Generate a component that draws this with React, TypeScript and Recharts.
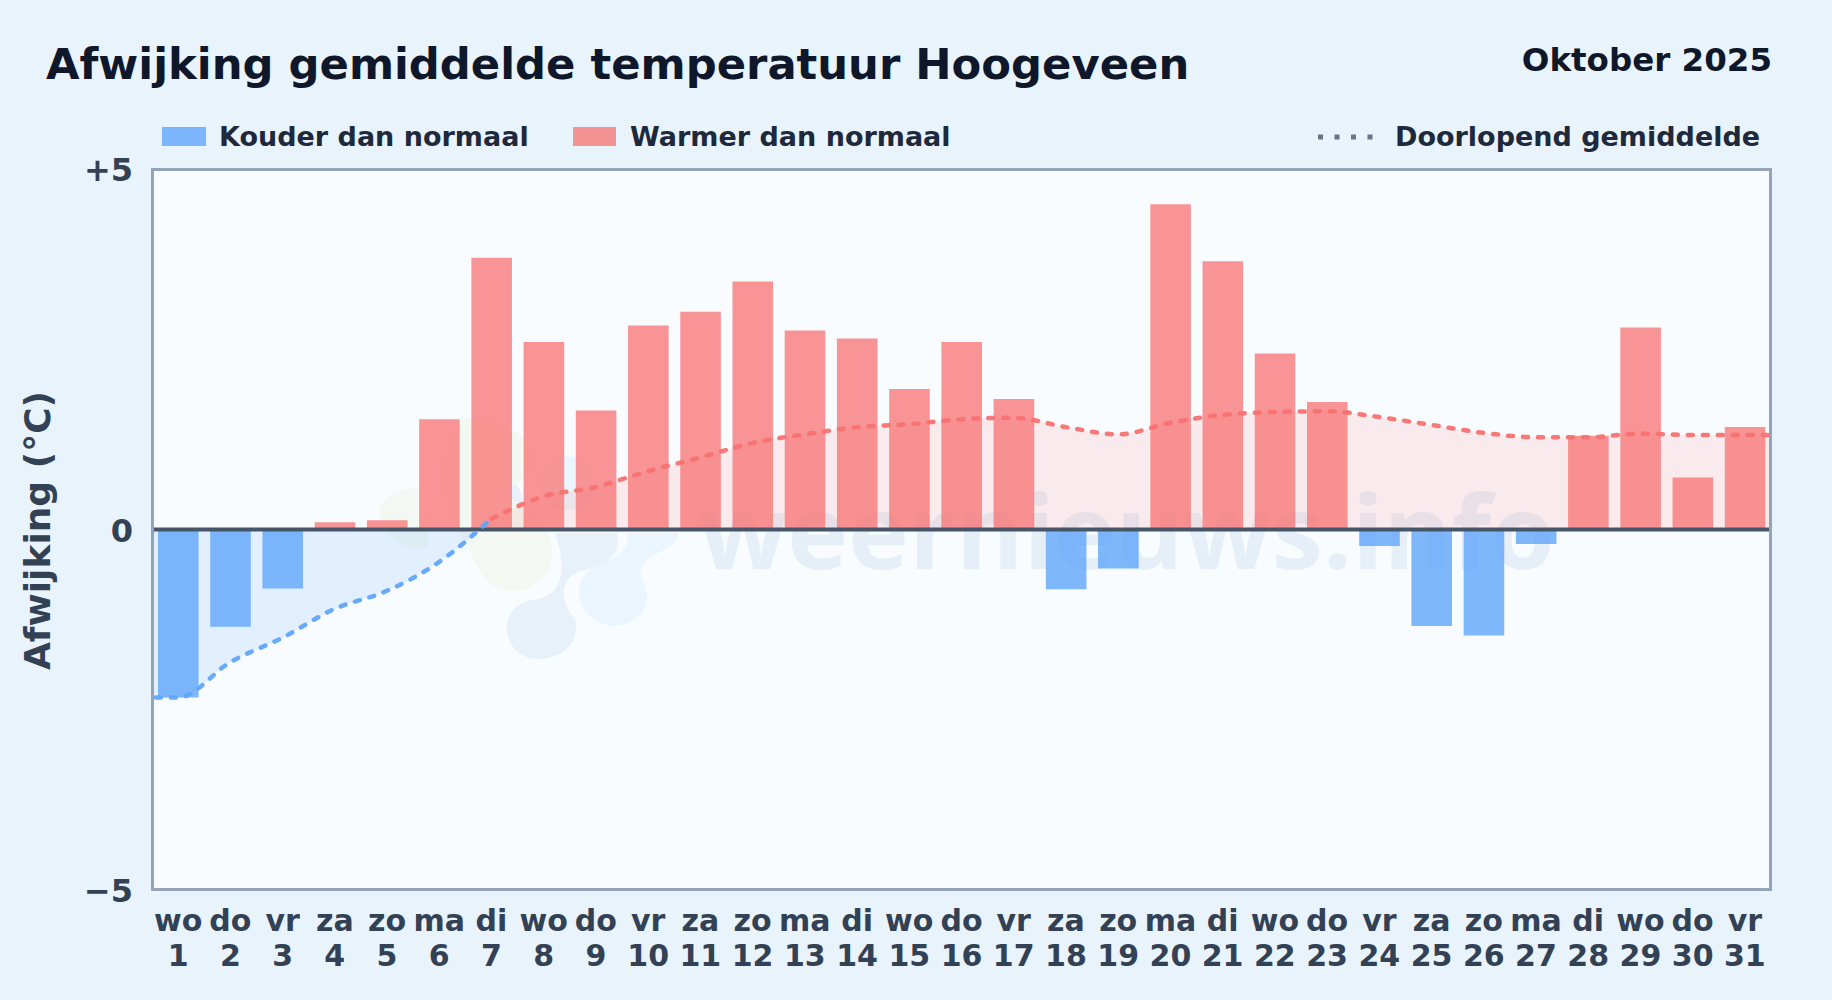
import { Area, Bar, Cell, ComposedChart, Line, ReferenceLine, XAxis, YAxis } from "recharts";

const dagen = [1, 2, 3, 4, 5, 6, 7, 8, 9, 10, 11, 12, 13, 14, 15, 16, 17, 18, 19, 20, 21, 22, 23, 24, 25, 26, 27, 28, 29, 30, 31];
const weekdagen = ["wo", "do", "vr", "za", "zo", "ma", "di", "wo", "do", "vr", "za", "zo", "ma", "di", "wo", "do", "vr", "za", "zo", "ma", "di", "wo", "do", "vr", "za", "zo", "ma", "di", "wo", "do", "vr"];
const afwijking = [-2.33, -1.35, -0.82, 0.1, 0.13, 1.53, 3.77, 2.6, 1.65, 2.83, 3.02, 3.44, 2.76, 2.65, 1.95, 2.6, 1.81, -0.83, -0.54, 4.51, 3.72, 2.44, 1.77, -0.23, -1.34, -1.47, -0.2, 1.3, 2.8, 0.72, 1.42];
const gemiddelde = [-2.33, -1.84, -1.5, -1.1, -0.85, -0.45, 0.15, 0.46, 0.59, 0.81, 1.0, 1.2, 1.32, 1.42, 1.46, 1.53, 1.55, 1.42, 1.32, 1.48, 1.59, 1.63, 1.64, 1.56, 1.45, 1.34, 1.28, 1.28, 1.33, 1.31, 1.31];
const yTicks = [-5, 0, 5];

const BLAUW = "#60a5fa";
const ROOD = "#f87171";
const LAATSTE_KOUDE_DAG = 7;
const FONT = "'DejaVu Sans', sans-serif";

type Rij = { dag: number; waarde: number | null; koud: number | null; warm: number | null };

function maakRij(dag: number, waarde: number | null, gem: number): Rij {
  return {
    dag,
    waarde,
    koud: dag <= LAATSTE_KOUDE_DAG ? gem : null,
    warm: dag >= LAATSTE_KOUDE_DAG ? gem : null,
  };
}

// de lijn loopt door tot voorbij de randen, het domein knipt hem af op het plotvlak
const rijen: Rij[] = [
  maakRij(0, null, gemiddelde[0]),
  ...dagen.map((dag, i) => maakRij(dag, afwijking[i], gemiddelde[i])),
  maakRij(32, null, gemiddelde[gemiddelde.length - 1]),
];

function DagTick({ x, y, payload }: any) {
  const i = dagen.indexOf(payload.value);
  return (
    <text x={x} textAnchor="middle" fontFamily={FONT} fontWeight={700} fontSize={30} fill="#334155">
      <tspan x={x} y={y + 33}>{weekdagen[i]}</tspan>
      <tspan x={x} y={y + 68}>{dagen[i]}</tspan>
    </text>
  );
}

function formatY(v: number) {
  if (v > 0) return `+${v}`;
  if (v < 0) return `\u2212${-v}`;
  return "0";
}

function Watermerk() {
  return (
    <svg width={1832} height={1000} style={{ position: "absolute", left: 0, top: 0 }}>
      <g fill="#e8f1f9">
        <path d="M462 505c0-20 14-32 30-32s30 12 30 28c0 14-2 30-12 40-12 10-48 4-48-36z" />
        <path d="M555 533h62c4 16-4 30-28 36-26 4-34 26-14 50 6 24-14 40-36 40-24 0-32-18-32-32 0-16 12-26 30-28 26-4 30-30 18-66z" />
      </g>
      <g fill="#ebf5fd">
        <path d="M540 482c0-14 12-26 26-26s28 12 28 30c0 18-18 24-28 24s-26-10-26-28z" />
        <path d="M628 533h50c2 12-20 18-32 28-8 8-6 14-2 24 6 14 2 28-12 36-20 12-46 0-52-20-4-12 0-32 30-42 14-6 18-14 18-26z" />
      </g>
      <g fill="#f3f9f2">
        <path d="M462 420c16-6 52 2 66 24 16 28-10 40-26 48 22 16 50 30 50 60 0 30-30 44-50 38-24-8-34-44-50-76-14-28-10-76 10-94z" />
        <path d="M380 512c0-14 22-26 44-24 4 22 4 40 4 60-26 4-48-14-48-36z" />
      </g>
      <text x={1127} y={569} textAnchor="middle" fontFamily="'Open Sans', sans-serif" fontWeight={700} fontSize={103} fill="#e6eff8">
        weernieuws.info
      </text>
    </svg>
  );
}

export default function App() {
  return (
    <div style={{ position: "absolute", left: 0, top: 0, width: 1832, height: 1000, overflow: "hidden", background: "#e9f3fc", fontFamily: FONT, fontWeight: 700 }}>
      <div style={{ position: "absolute", left: 152, top: 169, width: 1619, height: 721, background: "#f8fcff" }} />
      <Watermerk />
      <div style={{ position: "absolute", left: 46, top: 39, fontSize: 43.3, color: "#0f172a", whiteSpace: "nowrap" }}>
        Afwijking gemiddelde temperatuur Hoogeveen
      </div>
      <div style={{ position: "absolute", right: 60, top: 41, fontSize: 32.5, color: "#0f172a", whiteSpace: "nowrap" }}>Oktober 2025</div>

      <div style={{ position: "absolute", left: 162, top: 127, width: 44, height: 19, background: BLAUW, opacity: 0.8 }} />
      <div style={{ position: "absolute", left: 219, top: 121, fontSize: 27, color: "#1e293b", whiteSpace: "nowrap" }}>Kouder dan normaal</div>
      <div style={{ position: "absolute", left: 573, top: 127, width: 43, height: 19, background: ROOD, opacity: 0.75 }} />
      <div style={{ position: "absolute", left: 630, top: 121, fontSize: 27, color: "#1e293b", whiteSpace: "nowrap" }}>Warmer dan normaal</div>
      <svg style={{ position: "absolute", left: 1310, top: 130 }} width={70} height={14}>
        <line x1={8} x2={64} y1={7} y2={7} stroke="#64748b" strokeWidth={5} strokeDasharray="5 11.5" />
      </svg>
      <div style={{ position: "absolute", left: 1395, top: 121, fontSize: 27, color: "#1e293b", whiteSpace: "nowrap" }}>Doorlopend gemiddelde</div>

      <div style={{ position: "absolute", left: 0, top: 0 }}>
        <ComposedChart width={1832} height={1000} data={rijen} margin={{ top: 169, right: 61, bottom: 40, left: 0 }}>
          <XAxis
            dataKey="dag"
            type="number"
            domain={[0.5, 31.5]}
            allowDataOverflow
            ticks={dagen}
            interval={0}
            height={70}
            tick={<DagTick />}
            tickLine={false}
            axisLine={false}
          />
          <YAxis
            type="number"
            domain={[-5, 5]}
            ticks={yTicks}
            width={152}
            tickFormatter={formatY}
            tickLine={false}
            axisLine={false}
            tickMargin={13}
            tick={{ fontSize: 32, fontWeight: 700, fill: "#334155", fontFamily: FONT, dy: 1 }}
            label={{
              value: "Afwijking (°C)",
              angle: -90,
              position: "insideLeft",
              offset: 37,
              dy: 1,
              style: { textAnchor: "middle", fontSize: 36, fontWeight: 700, fill: "#334155", fontFamily: FONT },
            }}
          />
          <Area dataKey="koud" type="monotone" baseValue={0} fill={BLAUW} fillOpacity={0.15} stroke="none" connectNulls={false} isAnimationActive={false} />
          <Area dataKey="warm" type="monotone" baseValue={0} fill={ROOD} fillOpacity={0.13} stroke="none" connectNulls={false} isAnimationActive={false} />
          <Bar dataKey="waarde" barSize={40.6} isAnimationActive={false}>
            {rijen.map((r) => (
              <Cell key={r.dag} fill={(r.waarde ?? 0) < 0 ? BLAUW : ROOD} fillOpacity={(r.waarde ?? 0) < 0 ? 0.8 : 0.75} />
            ))}
          </Bar>
          <ReferenceLine y={0} stroke="#475569" strokeWidth={4} />
          <Line dataKey="koud" type="monotone" stroke={BLAUW} strokeOpacity={0.95} strokeWidth={4.5} strokeDasharray="5 10" strokeLinecap="round" dot={false} activeDot={false} connectNulls={false} isAnimationActive={false} />
          <Line dataKey="warm" type="monotone" stroke={ROOD} strokeOpacity={0.95} strokeWidth={4.5} strokeDasharray="5 10" strokeLinecap="round" dot={false} activeDot={false} connectNulls={false} isAnimationActive={false} />
        </ComposedChart>
      </div>
      <div style={{ position: "absolute", left: 151, top: 168, width: 1621, height: 723, boxSizing: "border-box", border: "3px solid #94a3b8", pointerEvents: "none" }} />
    </div>
  );
}
